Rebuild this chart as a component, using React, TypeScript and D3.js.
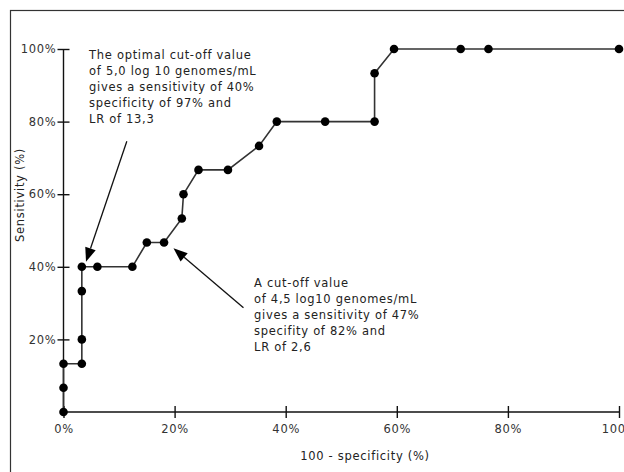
import * as d3 from "d3";
import { useEffect, useRef } from "react";

// ROC curve: 100 - specificity (%) vs sensitivity (%)
const fpr = [0, 0, 0, 3.3, 3.3, 3.3, 3.3, 6.1, 12.4, 15.0, 18.1, 21.3, 21.6, 24.3, 29.6, 35.2, 38.4, 47.1, 56.0, 56.0, 59.5, 71.5, 76.5, 100];
const sens = [0, 6.7, 13.3, 13.3, 20, 33.3, 40, 40, 40, 46.7, 46.7, 53.3, 60, 66.7, 66.7, 73.3, 80, 80, 80, 93.3, 100, 100, 100, 100];

const xTicks = [0, 20, 40, 60, 80, 100];
const yTicks = [20, 40, 60, 80, 100];

const note1 = [
  "The optimal cut-off value",
  "of 5,0 log 10 genomes/mL",
  "gives a sensitivity of 40%",
  "specificity of 97% and",
  "LR of 13,3",
];
const note2 = [
  "A cut-off value",
  "of 4,5 log10 genomes/mL",
  "gives a sensitivity of 47%",
  "specifity of 82% and",
  "LR of 2,6",
];
// annotation anchors in data units: [textX, textY, arrowFromX, arrowFromY, arrowToX, arrowToY]
const note1Pos = [4.6, 97.2, 11.4, 74.6, 4.05, 41.4];
const note2Pos = [34.3, 34.4, 32.4, 28.7, 19.8, 45.1];

export default function App() {
  const width = 624;
  const height = 472;
  const ref = useRef<SVGSVGElement>(null);

  useEffect(() => {
    const svg = d3.select(ref.current);
    svg.selectAll("*").remove();

    const font = "'DejaVu Sans', sans-serif";
    const fs = 11.5;
    const ls = 0.7;

    const x = d3.scaleLinear().domain([0, 100]).range([63.5, 619]);
    const y = d3.scaleLinear().domain([0, 100]).range([412, 49]);

    // outer frame (right / bottom edges fall off the picture)
    svg
      .append("rect")
      .attr("x", 10.5)
      .attr("y", 10.5)
      .attr("width", 640)
      .attr("height", 500)
      .attr("fill", "none")
      .attr("stroke", "#333")
      .attr("stroke-width", 1.2);

    const xAxis = svg
      .append("g")
      .attr("transform", `translate(0,${y(0)})`)
      .call(
        d3
          .axisBottom(x)
          .tickValues(xTicks)
          .tickSize(6)
          .tickPadding(7)
          .tickFormat((d) => `${d}%`)
      );
    xAxis.selectAll(".tick line").attr("y1", -6).attr("y2", 6);

    const yAxis = svg
      .append("g")
      .attr("transform", `translate(${x(0)},0)`)
      .call(
        d3
          .axisLeft(y)
          .tickValues(yTicks)
          .tickSize(6)
          .tickPadding(1)
          .tickFormat((d) => `${d}%`)
      );
    yAxis.selectAll(".tick line").attr("x1", -6).attr("x2", 6);

    svg
      .selectAll(".domain, .tick line")
      .attr("stroke", "#111")
      .attr("stroke-width", 1.4);
    svg
      .selectAll(".tick text")
      .attr("font-family", font)
      .attr("font-size", fs)
      .attr("letter-spacing", ls)
      .attr("fill", "#333");
    xAxis.select(".domain").attr("d", `M${x(0)},0H${x(100)}`);
    yAxis.select(".domain").attr("d", `M0,${y(0)}V${y(100)}`);

    // axis titles
    svg
      .append("text")
      .attr("x", 365)
      .attr("y", 460)
      .attr("text-anchor", "middle")
      .attr("font-family", font)
      .attr("font-size", fs)
      .attr("letter-spacing", ls)
      .attr("fill", "#222")
      .text("100 - specificity (%)");
    svg
      .append("text")
      .attr("transform", "translate(24,195) rotate(-90)")
      .attr("text-anchor", "middle")
      .attr("font-family", font)
      .attr("font-size", fs)
      .attr("letter-spacing", ls)
      .attr("fill", "#222")
      .text("Sensitivity (%)");

    const pts = fpr.map((v, i) => [v, sens[i]] as [number, number]);

    svg
      .append("path")
      .datum(pts)
      .attr("fill", "none")
      .attr("stroke", "#333")
      .attr("stroke-width", 1.6)
      .attr(
        "d",
        d3
          .line<[number, number]>()
          .x((d) => x(d[0]))
          .y((d) => y(d[1]))
      );

    svg
      .append("g")
      .selectAll("circle")
      .data(pts)
      .join("circle")
      .attr("cx", (d) => x(d[0]))
      .attr("cy", (d) => y(d[1]))
      .attr("r", 4.3)
      .attr("fill", "#000");

    // annotations
    const notes: [string[], number[]][] = [
      [note1, note1Pos],
      [note2, note2Pos],
    ];
    notes.forEach(([lines, p]) => {
      const t = svg
        .append("text")
        .attr("font-family", font)
        .attr("font-size", fs)
        .attr("letter-spacing", ls)
        .attr("fill", "#222");
      lines.forEach((s, i) => {
        t.append("tspan")
          .attr("x", x(p[0]))
          .attr("y", y(p[1]) + i * 16)
          .text(s);
      });

      const x0 = x(p[2]);
      const y0 = y(p[3]);
      const x1 = x(p[4]);
      const y1 = y(p[5]);
      const a = Math.atan2(y1 - y0, x1 - x0);
      const hl = 14;
      const hw = 5.5;
      const bx = x1 - hl * Math.cos(a);
      const by = y1 - hl * Math.sin(a);
      svg
        .append("line")
        .attr("x1", x0)
        .attr("y1", y0)
        .attr("x2", bx)
        .attr("y2", by)
        .attr("stroke", "#111")
        .attr("stroke-width", 1.3);
      svg
        .append("path")
        .attr(
          "d",
          `M${x1},${y1}L${bx - hw * Math.sin(a)},${by + hw * Math.cos(a)}L${
            bx + hw * Math.sin(a)
          },${by - hw * Math.cos(a)}Z`
        )
        .attr("fill", "#000");
    });
  }, []);

  return (
    <svg
      ref={ref}
      width={width}
      height={height}
      style={{ position: "absolute", left: 0, top: 0, background: "#fff" }}
    ></svg>
  );
}
